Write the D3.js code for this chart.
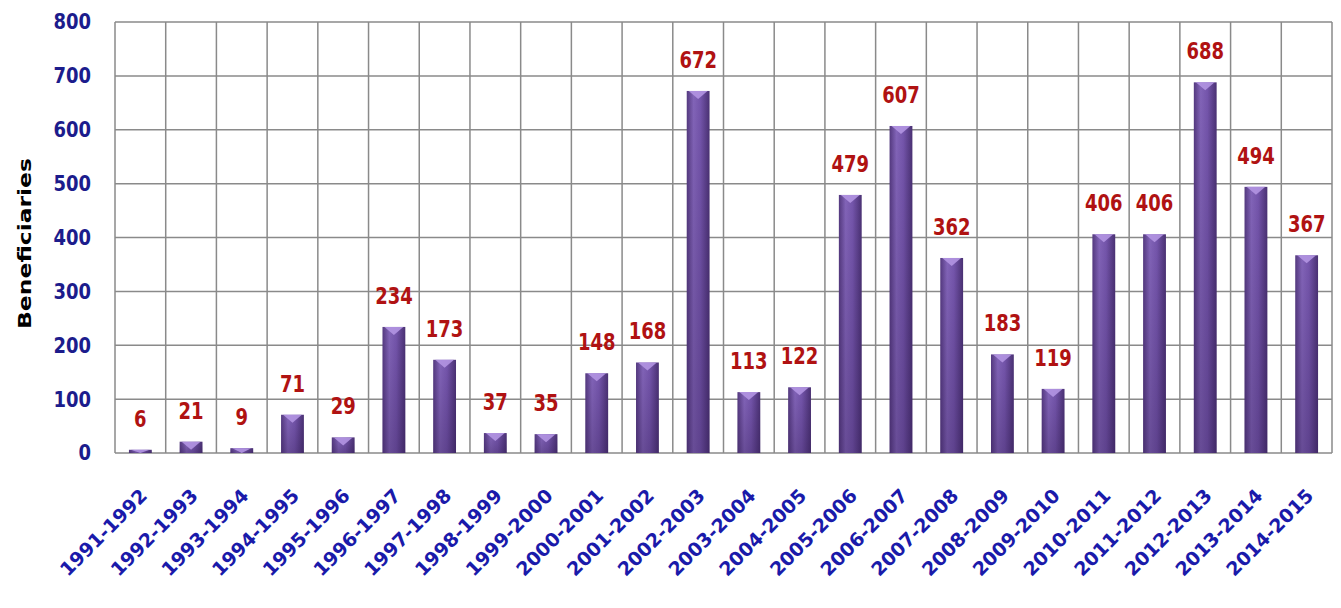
<html>
<head>
    <script type="text/javascript" src="https://cdnjs.cloudflare.com/ajax/libs/d3/7.8.5/d3.min.js"></script>
    <style>
        body { margin: 0; background: #fff; }
    </style>
</head>
<body>
<script type="text/javascript">

    var years = ["1991-1992", "1992-1993", "1993-1994", "1994-1995", "1995-1996", "1996-1997",
        "1997-1998", "1998-1999", "1999-2000", "2000-2001", "2001-2002", "2002-2003",
        "2003-2004", "2004-2005", "2005-2006", "2006-2007", "2007-2008", "2008-2009",
        "2009-2010", "2010-2011", "2011-2012", "2012-2013", "2013-2014", "2014-2015"];
    var beneficiaries = [6, 21, 9, 71, 29, 234, 173, 37, 35, 148, 168, 672,
        113, 122, 479, 607, 362, 183, 119, 406, 406, 688, 494, 367];
    var yTicks = [0, 100, 200, 300, 400, 500, 600, 700, 800];

    var data = years.map(function (y, i) { return {year: y, value: beneficiaries[i]}; });

    var width = 1341, height = 608;
    var plot = {left: 115, right: 1332, top: 22, bottom: 453};

    var svg = d3.select("body").append("svg").attr("width", width).attr("height", height);

    var defs = svg.append("defs");
    var grad = defs.append("linearGradient").attr("id", "barGrad")
        .attr("x1", "0%").attr("x2", "100%").attr("y1", "0%").attr("y2", "0%");
    grad.append("stop").attr("offset", "0%").attr("stop-color", "#54397f");
    grad.append("stop").attr("offset", "30%").attr("stop-color", "#8264b8");
    grad.append("stop").attr("offset", "60%").attr("stop-color", "#7455ab");
    grad.append("stop").attr("offset", "100%").attr("stop-color", "#4a3173");

    var shade = defs.append("linearGradient").attr("id", "barShade")
        .attr("x1", "0%").attr("x2", "0%").attr("y1", "0%").attr("y2", "100%");
    shade.append("stop").attr("offset", "0%").attr("stop-color", "#2a1548").attr("stop-opacity", 0);
    shade.append("stop").attr("offset", "100%").attr("stop-color", "#2a1548").attr("stop-opacity", 0.3);

    var xScale = d3.scaleBand()
        .domain(years)
        .range([plot.left, plot.right])
        .padding(0);

    var yScale = d3.scaleLinear()
        .domain([0, 800])
        .range([plot.bottom, plot.top]);

    // grid
    var grid = svg.append("g").attr("class", "grid");
    grid.selectAll("line.h")
        .data(yTicks)
        .enter().append("line")
        .attr("class", "h")
        .attr("x1", plot.left).attr("x2", plot.right)
        .attr("y1", function (d) { return yScale(d); })
        .attr("y2", function (d) { return yScale(d); })
        .attr("stroke", "#8a8a8a").attr("stroke-width", 1.5);

    var vlines = years.map(function (y) { return xScale(y); }).concat([plot.right]);
    grid.selectAll("line.v")
        .data(vlines)
        .enter().append("line")
        .attr("class", "v")
        .attr("x1", function (d) { return d; }).attr("x2", function (d) { return d; })
        .attr("y1", plot.top).attr("y2", plot.bottom)
        .attr("stroke", "#8a8a8a").attr("stroke-width", 1.5);

    // y tick labels (drawn by hand so they can be stretched a little)
    svg.append("g").selectAll("text.ytick")
        .data(yTicks)
        .enter().append("text")
        .attr("class", "ytick")
        .attr("transform", function (d) {
            return "translate(" + (plot.left - 24) + "," + yScale(d) + ") scale(1,1.15)";
        })
        .attr("dy", "0.36em")
        .attr("text-anchor", "end")
        .attr("font-family", "DejaVu Sans")
        .attr("font-weight", "bold")
        .attr("font-size", "18px")
        .attr("fill", "#1c1c8c")
        .text(function (d) { return d; });

    svg.append("text")
        .attr("transform", "translate(31," + ((plot.top + plot.bottom) / 2 + 6) + ") rotate(-90)")
        .attr("text-anchor", "middle")
        .attr("font-family", "DejaVu Sans")
        .attr("font-weight", "bold")
        .attr("font-size", "17px")
        .attr("textLength", 171)
        .attr("lengthAdjust", "spacingAndGlyphs")
        .attr("fill", "#000")
        .text("Beneficiaries");

    // x labels
    var xAxis = d3.axisBottom(xScale).tickSize(0).tickPadding(0);
    var xG = svg.append("g")
        .attr("transform", "translate(0," + plot.bottom + ")")
        .call(xAxis);
    xG.select(".domain").remove();
    xG.selectAll("text")
        .attr("font-family", "DejaVu Sans")
        .attr("font-weight", "bold")
        .attr("font-size", "19px")
        .attr("fill", "#1a1aaa")
        .attr("text-anchor", "end")
        .attr("dy", 0)
        .attr("y", 0)
        .attr("transform", "translate(8,44) rotate(-45)");

    // bars
    var bw = xScale.bandwidth() * 0.45;
    var bars = svg.append("g").selectAll("g.bar")
        .data(data)
        .enter().append("g")
        .attr("class", "bar");

    bars.append("rect")
        .attr("x", function (d) { return xScale(d.year) + (xScale.bandwidth() - bw) / 2; })
        .attr("y", function (d) { return yScale(d.value); })
        .attr("width", bw)
        .attr("height", function (d) { return plot.bottom - yScale(d.value); })
        .attr("fill", "url(#barGrad)");

    bars.append("rect")
        .attr("x", function (d) { return xScale(d.year) + (xScale.bandwidth() - bw) / 2; })
        .attr("y", function (d) { return yScale(d.value); })
        .attr("width", bw)
        .attr("height", function (d) { return plot.bottom - yScale(d.value); })
        .attr("fill", "url(#barShade)");

    // light cap on top of each bar
    bars.append("path")
        .attr("d", function (d) {
            var x0 = xScale(d.year) + (xScale.bandwidth() - bw) / 2;
            var y0 = yScale(d.value);
            var h = Math.min(8, plot.bottom - y0);
            return "M" + (x0 + 2) + "," + y0 + "L" + (x0 + bw - 2) + "," + y0 +
                "L" + (x0 + bw * 0.5) + "," + (y0 + h) + "Z";
        })
        .attr("fill", "#b295e2")
        .attr("opacity", 0.9);

    // value labels, slightly stretched vertically like the original
    bars.append("text")
        .attr("transform", function (d) {
            return "translate(" + (xScale(d.year) + xScale.bandwidth() / 2) + "," +
                (yScale(d.value) - 23) + ") scale(1,1.3)";
        })
        .attr("text-anchor", "middle")
        .attr("font-family", "DejaVu Sans")
        .attr("font-weight", "bold")
        .attr("font-size", "18px")
        .attr("fill", "#b01212")
        .text(function (d) { return d.value; });

</script>
</body>
</html>
